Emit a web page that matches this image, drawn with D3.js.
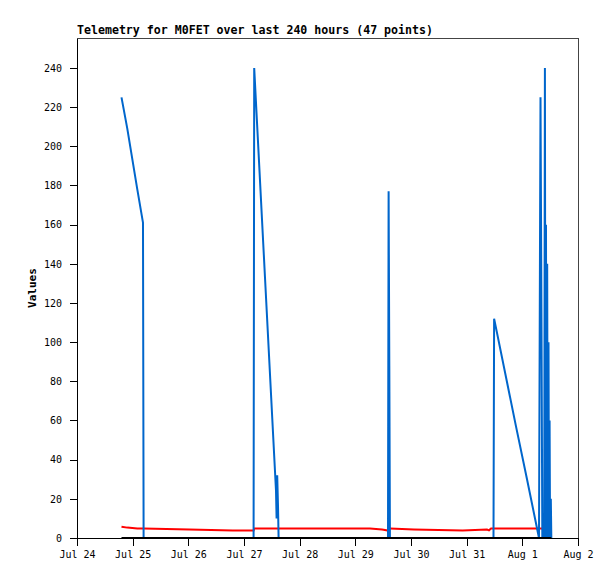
<!DOCTYPE html>
<html>
<head>
<meta charset="utf-8">
<script src="https://cdn.jsdelivr.net/npm/d3@7"></script>
<style>
  body { margin: 0; background: #fff; }
  text { font-family: "DejaVu Sans Mono", monospace; }
</style>
</head>
<body>
<div id="chart"></div>
<script>
// data (47 telemetry points)
var times = [
  "2022-07-24 19:11", "2022-07-24 21:41", "2022-07-25 02:00", "2022-07-25 04:27", "2022-07-25 04:43",
  "2022-07-26 00:25", "2022-07-26 19:08", "2022-07-27 04:08", "2022-07-27 04:24", "2022-07-27 09:03",
  "2022-07-27 13:48", "2022-07-27 14:03", "2022-07-27 14:19", "2022-07-27 14:40", "2022-07-27 14:55",
  "2022-07-29 06:20", "2022-07-29 11:30", "2022-07-29 14:05", "2022-07-29 14:21", "2022-07-29 14:39",
  "2022-07-29 14:55", "2022-07-30 01:18", "2022-07-30 22:17", "2022-07-31 08:46", "2022-07-31 09:38",
  "2022-07-31 10:30", "2022-07-31 11:34", "2022-07-31 11:50", "2022-07-31 21:16", "2022-08-01 02:01",
  "2022-08-01 07:11", "2022-08-01 07:50", "2022-08-01 08:16", "2022-08-01 08:37", "2022-08-01 09:26",
  "2022-08-01 09:44", "2022-08-01 09:59", "2022-08-01 10:12", "2022-08-01 10:25", "2022-08-01 10:43",
  "2022-08-01 10:56", "2022-08-01 11:17", "2022-08-01 11:30", "2022-08-01 11:45", "2022-08-01 11:58",
  "2022-08-01 12:17", "2022-08-01 12:30"
];

var blueValues = [
  225, 209, 178, 161, 0,
  0, 0, 0, 240, 133,
  24, 10, 32, 16, 0,
  0, 0, 0, 177, 88,
  0, 0, 0, 0, 0,
  0, 0, 112, 57, 30,
  0, 225, 108, 0, 0,
  240, 0, 160, 0, 140,
  0, 100, 0, 60, 0,
  20, 0
];

var redValues = [
  5.8, 5.3, 4.8, 4.8, 4.8,
  4.3, 3.8, 3.8, 4.8, 4.8,
  4.8, 4.8, 4.8, 4.8, 4.8,
  4.8, 4.3, 3.8, 4.8, 4.8,
  4.8, 4.3, 3.8, 4.3, 3.9,
  4.8, 4.8, 4.8, 4.8, 4.8,
  4.8, 4.8, 4.8, 4.8, 4.8,
  4.8, 4.8, 4.8, 4.8, 4.8,
  4.8, 4.8, 4.8, 4.8, 4.8,
  4.8, 4.8
];

var blackValues = times.map(function() { return 0; });

var tickDates = ["2022-07-24", "2022-07-25", "2022-07-26", "2022-07-27", "2022-07-28",
  "2022-07-29", "2022-07-30", "2022-07-31", "2022-08-01", "2022-08-02"];
var yTicks = [0, 20, 40, 60, 80, 100, 120, 140, 160, 180, 200, 220, 240];

var titleText = "Telemetry for M0FET over last 240 hours (47 points)";

// svg size and margins
var svgWidth = 615;
var svgHeight = 579;

var chartMargin = {
  top: 38,
  right: 37,
  bottom: 41,
  left: 77
};

var chartWidth = svgWidth - chartMargin.left - chartMargin.right;
var chartHeight = svgHeight - chartMargin.top - chartMargin.bottom;

var parseTime = d3.timeParse("%Y-%m-%d %H:%M");
var parseDay = d3.timeParse("%Y-%m-%d");

var svg = d3.select("#chart")
  .append("svg")
  .attr("width", svgWidth)
  .attr("height", svgHeight);

var chartGroup = svg.append("g")
  .attr("transform", `translate(${chartMargin.left}, ${chartMargin.top})`);

// scales
var tickDays = tickDates.map(parseDay);

var xScale = d3.scaleTime()
  .domain([tickDays[0], tickDays[tickDays.length - 1]])
  .range([0, chartWidth]);

var yScale = d3.scaleLinear()
  .domain([0, 255.3])
  .range([chartHeight, 0]);

// frame (top / right are grey)
chartGroup.append("rect")
  .attr("x", 0.5)
  .attr("y", 0.5)
  .attr("width", chartWidth)
  .attr("height", chartHeight)
  .attr("fill", "none")
  .attr("stroke", "#444")
  .attr("stroke-width", 1)
  .attr("shape-rendering", "crispEdges");

// build rows
var rows = times.map(function(t, i) {
  return {
    time: parseTime(t),
    blue: blueValues[i],
    red: redValues[i],
    black: blackValues[i]
  };
});

function lineFor(key) {
  return d3.line()
    .x(d => xScale(d.time))
    .y(d => yScale(d[key]));
}

chartGroup.append("path")
  .datum(rows)
  .attr("d", lineFor("red"))
  .attr("fill", "none")
  .attr("stroke", "#ff0000")
  .attr("stroke-width", 2);

chartGroup.append("path")
  .datum(rows)
  .attr("d", lineFor("blue"))
  .attr("fill", "none")
  .attr("stroke", "#0066cc")
  .attr("stroke-width", 2)
  .attr("stroke-linejoin", "bevel");

chartGroup.append("path")
  .datum(rows)
  .attr("d", lineFor("black"))
  .attr("fill", "none")
  .attr("stroke", "#000")
  .attr("stroke-width", 2);

// axes
var bottomAxis = d3.axisBottom(xScale)
  .tickValues(tickDays)
  .tickFormat(d3.timeFormat("%b %-d"))
  .tickSize(8)
  .tickSizeOuter(0)
  .tickPadding(5);

var leftAxis = d3.axisLeft(yScale)
  .tickValues(yTicks)
  .tickSize(7)
  .tickSizeOuter(0)
  .tickPadding(8);

var xAxisG = chartGroup.append("g")
  .attr("transform", `translate(0, ${chartHeight})`)
  .call(bottomAxis);

var yAxisG = chartGroup.append("g")
  .call(leftAxis);

[xAxisG, yAxisG].forEach(function(g) {
  g.selectAll("path, line")
    .attr("stroke", "#000")
    .attr("shape-rendering", "crispEdges");
  g.selectAll("text")
    .attr("fill", "#000")
    .style("font-family", "'DejaVu Sans Mono', monospace")
    .style("font-size", "10px");
});

// title
svg.append("text")
  .attr("x", chartMargin.left)
  .attr("y", 34)
  .style("font-size", "11.6px")
  .style("font-weight", "bold")
  .text(titleText);

// y label
svg.append("text")
  .attr("transform", `translate(36, ${chartMargin.top + chartHeight / 2}) rotate(-90)`)
  .attr("text-anchor", "middle")
  .style("font-size", "11px")
  .style("font-weight", "bold")
  .text("Values");
</script>
</body>
</html>
